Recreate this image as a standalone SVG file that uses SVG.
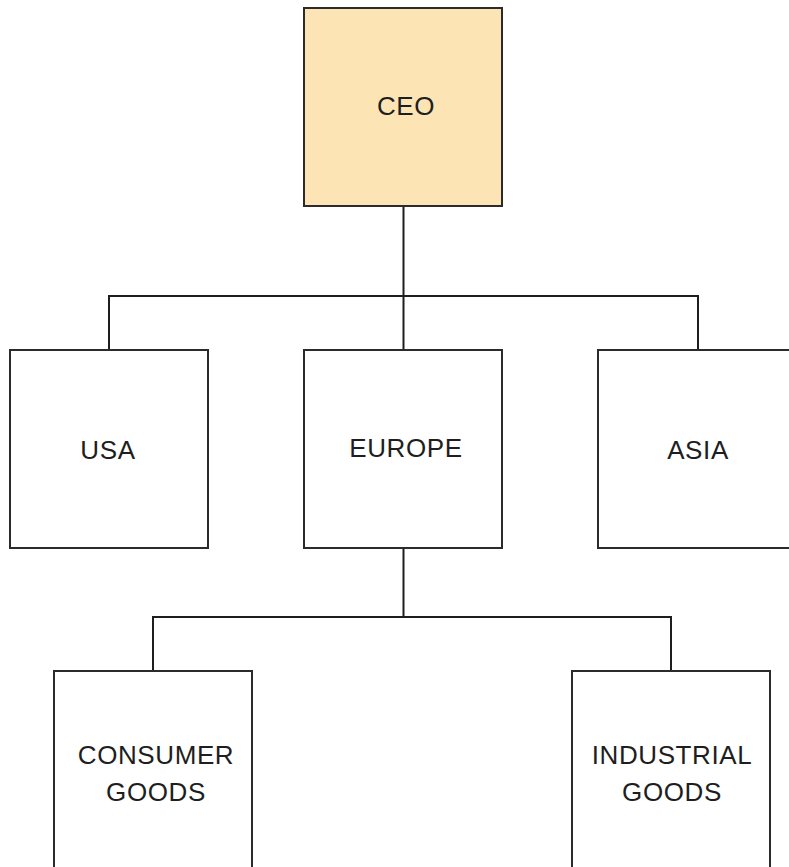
<svg xmlns="http://www.w3.org/2000/svg" width="789" height="867" viewBox="0 0 789 867">
<style>
.box{fill:#ffffff;stroke:#2b2b2b;stroke-width:2}
.ceo{fill:#fde4b4}
.lbl{font-family:"Liberation Sans",Arial,sans-serif;font-size:26px;letter-spacing:0.6px;fill:#1e1e1e;text-anchor:middle}
.conn{fill:none;stroke:#1e1e1e;stroke-width:2}
</style>
<rect width="789" height="867" fill="#ffffff"/>
<g id="connectors">
<path class="conn" d="M403.5,207 V296 M109,350 V296 H698 V350 M403.5,296 V350"/>
<path class="conn" d="M403.5,548 V617 M153,671 V617 H671 V671"/>
</g>
<g id="ceo">
<rect class="box ceo" x="304" y="8" width="198" height="198"/>
<text class="lbl" x="406" y="115">CEO</text>
</g>
<g id="usa">
<rect class="box" x="10" y="350" width="198" height="198"/>
<text class="lbl" x="108" y="459">USA</text>
</g>
<g id="europe">
<rect class="box" x="304" y="350" width="198" height="198"/>
<text class="lbl" x="406" y="457">EUROPE</text>
</g>
<g id="asia">
<rect class="box" x="598" y="350" width="198" height="198"/>
<text class="lbl" x="698" y="459">ASIA</text>
</g>
<g id="consumer">
<rect class="box" x="54" y="671" width="198" height="210"/>
<text class="lbl" x="156" y="764">CONSUMER</text>
<text class="lbl" x="156" y="801">GOODS</text>
</g>
<g id="industrial">
<rect class="box" x="572" y="671" width="198" height="210"/>
<text class="lbl" x="672" y="764">INDUSTRIAL</text>
<text class="lbl" x="672" y="801">GOODS</text>
</g>
</svg>
